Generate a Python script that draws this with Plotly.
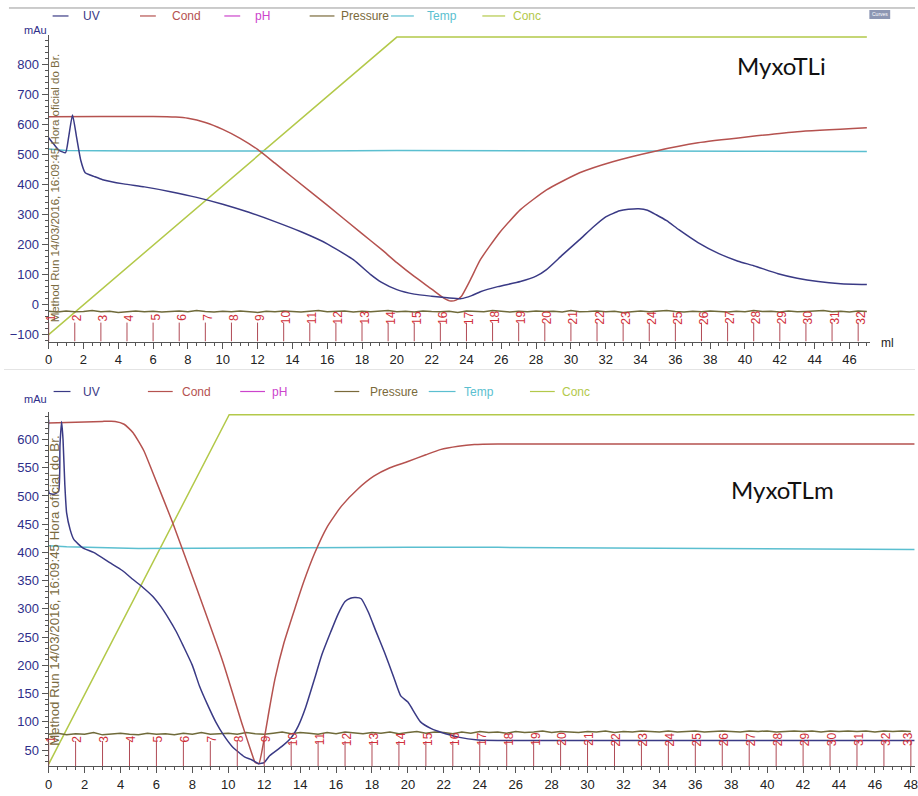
import plotly.graph_objects as go

W, H = 918, 796

# ---------------- data: top run (MyxoTLi) ----------------
uv1_ml = [0, 0.3, 0.6, 0.97, 1.15, 1.37, 1.6, 1.85, 2.1, 2.6, 3.1, 4.3, 5.5, 7, 8.5, 10, 11.5, 13, 14.5, 16,
          17.5, 18.5, 19.1, 20, 21, 22, 22.9, 23.7, 24.3, 24.8, 25.8, 27.1, 28, 28.6, 29.5, 30.5, 31.3, 32,
          32.8, 33.3, 33.9, 34.4, 34.9, 35.5, 36.2, 37.3, 38.5, 39.6, 40.5, 41.9, 43, 44.2, 45.5, 47]
uv1 = [557, 535, 515, 507, 560, 633, 560, 480, 440, 428, 417, 403, 393, 377, 358, 335, 308, 277, 243, 203,
       150, 100, 75, 50, 35, 28, 23, 20, 30, 43, 60, 77, 95, 117, 165, 217, 260, 293,
       313, 318, 320, 315, 300, 280, 250, 207, 170, 145, 130, 103, 88, 77, 70, 67]

cond1_ml = [0, 3, 6, 7.3, 8, 9, 10, 11, 12, 13, 14, 16, 18, 19.1, 20, 21, 22, 22.7, 23.1, 23.4, 23.7, 24.2,
            24.8, 25.9, 27.1, 28.6, 30.5, 32.4, 34.9, 37.3, 40.2, 43, 47]
cond1 = [627, 628, 628, 626, 622, 608, 585, 555, 518, 472, 425, 332, 237, 185, 140, 94, 52, 22, 12, 15, 27, 80,
         150, 240, 317, 383, 440, 477, 513, 540, 560, 577, 590]

temp1_ml = [0, 1, 5, 10, 15, 20, 25, 30, 35, 40, 47]
temp1 = [519, 514, 513, 512, 513, 514, 514, 514, 513, 512, 511]

conc1_ml = [0, 20, 47]
conc1 = [-100, 893, 893]

pres1 = [-22, -25, -21, -24, -23, -20, -24, -22, -26, -23, -21, -24, -22, -25, -23, -21, -24, -20, -23, -25,
         -22, -24, -21, -23, -26, -22, -24, -21, -23, -25, -22, -20, -24, -23, -21, -25, -22, -24, -23, -20,
         -24, -22, -25, -21, -23, -24, -22, -26, -21, -23, -24, -20, -23, -25, -22, -24, -21, -23, -22, -25,
         -20, -24, -23, -21, -24, -22, -26, -23, -21, -24, -22, -20, -23, -25, -22, -24, -21, -23, -25, -22,
         -24, -20, -23, -22, -25, -21, -24, -23, -22, -20, -24, -22, -25, -21, -23]
pres1_ml = [i * 0.5 for i in range(len(pres1))]

# ---------------- data: bottom run (MyxoTLm) ----------------
uv2_ml = [0, 0.03, 0.3, 0.55, 0.63, 0.72, 0.8, 0.9, 1.0, 1.2, 1.4, 1.9, 2.5, 3.4, 4.1, 4.7, 5.25, 5.8, 6.25,
          6.7, 7.1, 7.5, 8.0, 8.4, 8.85, 9.3, 9.75, 10.2, 10.9, 11.3, 11.7, 12.0, 12.3, 13, 13.5, 13.9, 14.3,
          14.8, 15.2, 15.7, 16.1, 16.5, 16.8, 17.1, 17.4, 17.8, 18.2, 18.7, 19.2, 19.6, 20, 20.7, 21.3, 21.8,
          22.8, 23.9, 30, 40, 48.2]
uv2 = [635, 505, 503, 508, 590, 632, 600, 520, 470, 440, 423, 408, 400, 382, 368, 352, 338, 322, 304,
       282, 260, 234, 200, 163, 130, 100, 76, 57, 38, 33, 26, 28, 40, 57, 72, 93, 125,
       176, 218, 259, 290, 313, 319, 320, 318, 294, 262, 223, 180, 146, 135, 100, 88, 82,
       73, 68, 67, 67, 67]

cond2_ml = [0, 1, 2, 3, 3.7, 4.2, 4.7, 5.3, 5.8, 6.9, 8.2, 9.7, 10.8, 11.3, 11.5, 11.7, 12.0, 12.3, 12.6, 13.1,
            13.7, 14.2, 14.8, 15.5, 16.3, 17.2, 18.1, 19, 20, 21, 21.8, 22.8, 23.7, 25, 48.2]
cond2 = [629, 630, 631, 632, 632, 627, 612, 580, 541, 453, 340, 206, 93, 45, 28, 26, 70, 125, 176, 240,
         300, 348, 398, 445, 482, 512, 535, 550, 561, 573, 582, 588, 591, 592, 592]

temp2_ml = [0, 1, 5, 10, 15, 20, 25, 30, 35, 40, 48.2]
temp2 = [412, 410, 407, 408, 409, 409, 409, 408, 407, 406, 405]

conc2_ml = [0, 10.05, 48.2]
conc2 = [25, 644, 644]

pres2 = [78, 80, 77, 79, 78, 81, 77, 79, 80, 78, 77, 80, 78, 79, 77, 80, 78, 81, 78, 79,
         80, 78, 81, 79, 78, 80, 82, 79, 81, 80, 78, 81, 79, 82, 80, 79, 81, 80, 82, 79,
         81, 83, 80, 82, 81, 79, 82, 80, 83, 81, 82, 80, 83, 81, 82, 84, 81, 83, 82, 81,
         83, 82, 84, 81, 83, 82, 84, 83, 82, 84, 82, 83, 84, 82, 83, 84, 83, 82, 84, 83,
         84, 82, 83, 84, 83, 84, 82, 84, 83, 84, 83, 84, 82, 84, 83, 84, 83]
pres2_ml = [i * 0.5 for i in range(len(pres2))]

fractions1 = [str(i) for i in range(1, 33)]
fractions2 = [str(i) for i in range(1, 34)]
frac_step = 1.5

yticks1 = [-100, 0, 100, 200, 300, 400, 500, 600, 700, 800]
yticks2 = [50, 100, 150, 200, 250, 300, 350, 400, 450, 500, 550, 600]

legend_names = ["UV", "Cond", "pH", "Pressure", "Temp", "Conc"]
legend_colors = ["#3a3a85", "#b5524f", "#cc44cc", "#7a6a3a", "#5bbfd0", "#b3c94a"]
run_note = "Method Run 14/03/2016, 16:09:45 Hora oficial do Br."

C_UV, C_COND, C_PH, C_PRES, C_TEMP, C_CONC = legend_colors
C_FRAC = "#d0303a"
C_AX = "#555555"
C_YT = "#2e2e8a"

def px(x):
    return x / W

def py(y):
    return 1 - y / H

fig = go.Figure()

def add_run(xa, ya, uv_x, uv_y, cd_x, cd_y, tp_x, tp_y, cc_x, cc_y, pr_x, pr_y):
    kw = dict(xaxis=xa, yaxis=ya, mode="lines", showlegend=False, hoverinfo="skip")
    fig.add_trace(go.Scatter(x=cc_x, y=cc_y, line=dict(color=C_CONC, width=1.5), **kw))
    fig.add_trace(go.Scatter(x=tp_x, y=tp_y, line=dict(color=C_TEMP, width=1.5), **kw))
    fig.add_trace(go.Scatter(x=pr_x, y=pr_y, line=dict(color="#6f6a3a", width=1.5), **kw))
    fig.add_trace(go.Scatter(x=cd_x, y=cd_y, line=dict(color=C_COND, width=1.5, shape="spline", smoothing=0.5), **kw))
    fig.add_trace(go.Scatter(x=uv_x, y=uv_y, line=dict(color=C_UV, width=1.5, shape="spline", smoothing=0.5), **kw))

add_run("x", "y", uv1_ml, uv1, cond1_ml, cond1, temp1_ml, temp1, conc1_ml, conc1, pres1_ml, pres1)
add_run("x2", "y2", uv2_ml, uv2, cond2_ml, cond2, temp2_ml, temp2, conc2_ml, conc2, pres2_ml, pres2)

base_font = "Liberation Sans, Arial, sans-serif"
xcommon = dict(showline=True, linecolor=C_AX, linewidth=1, ticks="outside", ticklen=6, tickcolor=C_AX,
               dtick=2, tick0=0, showgrid=False, zeroline=False, ticklabeloverflow="allow",
               tickfont=dict(family=base_font, size=13, color="#222222"),
               minor=dict(ticks="outside", ticklen=3, dtick=0.5, tickcolor=C_AX))
ycommon = dict(showline=True, linecolor=C_AX, linewidth=1, ticks="outside", ticklen=6, tickcolor=C_AX,
               showgrid=False, zeroline=False, tickmode="array",
               tickfont=dict(family=base_font, size=13, color=C_YT))

fig.update_layout(
    width=W, height=H, margin=dict(l=0, r=0, t=0, b=0),
    paper_bgcolor="white", plot_bgcolor="white", showlegend=False,
    xaxis=dict(domain=[45 / W, 873 / W], range=[0, 47.2], anchor="y", **xcommon),
    yaxis=dict(domain=[py(342), py(35)], range=[-123.33, 900], anchor="x", tickvals=yticks1,
               minor=dict(ticks="outside", ticklen=3, tickvals=list(range(-120, 900, 20)), tickcolor=C_AX),
               **ycommon),
    xaxis2=dict(domain=[45 / W, 1.0], range=[0, 48.23], anchor="y2", **xcommon),
    yaxis2=dict(domain=[py(767), py(413)], range=[21.8, 647.8], anchor="x2", tickvals=yticks2,
                minor=dict(ticks="outside", ticklen=3, tickvals=list(range(30, 650, 10)), tickcolor=C_AX),
                **ycommon),
)

shapes = []
ann = []

def A(**k):
    k.setdefault("showarrow", False)
    k.setdefault("xanchor", "center")
    k.setdefault("yanchor", "middle")
    ann.append(k)

# fraction markers
def add_fracs(labels, xref, yref, y_bot, y_top, y_lab):
    for i, lab in enumerate(labels):
        xv = i * frac_step
        shapes.append(dict(type="line", xref=xref, yref=yref, x0=xv, x1=xv, y0=y_bot, y1=y_top,
                           line=dict(color="#b04a55", width=1)))
        A(x=xv, y=y_lab, xref=xref, yref=yref, text=lab, textangle=-90,
          xshift=2 if i < 32 else -3, font=dict(family=base_font, size=12, color=C_FRAC))

add_fracs(fractions1, "x", "y", -123.33, -60, -43)
add_fracs(fractions2, "x2", "y2", 21.8, 66, 69.5)

# legends drawn as line+text
leg1 = [(49, 65, 78), (137, 153, 167), (222, 238, 251), (308, 333, 338), (390, 413, 424), (482, 505, 511)]
leg2 = [(50, 67, 78), (145, 170, 177), (238, 263, 268), (333, 358, 367), (428, 455, 462), (530, 555, 560)]
for legs, ly in ((leg1, 16), (leg2, 392)):
    for (x0, x1, tx), name, col in zip(legs, legend_names, legend_colors):
        shapes.append(dict(type="line", xref="paper", yref="paper", x0=px(x0), x1=px(x1), y0=py(ly), y1=py(ly),
                           line=dict(color=col, width=1.2)))
        A(x=px(tx), y=py(ly), xref="paper", yref="paper", text=name, xanchor="left",
          font=dict(family=base_font, size=12, color=col))

# mAu labels
for ly in (30, 400):
    A(x=px(32), y=py(ly), xref="paper", yref="paper", text="mAu",
      font=dict(family=base_font, size=11, color=C_YT))

# ml unit label
A(x=px(890), y=py(343), xref="paper", yref="paper", text="ml",
  font=dict(family=base_font, size=12, color="#222222"))

# run note along y axis
A(x=px(51), y=py(188), xref="paper", yref="paper", text=run_note, textangle=-90,
  font=dict(family=base_font, size=11.5, color="#7a6a40"))
A(x=px(51), y=py(592), xref="paper", yref="paper", text=run_note, textangle=-90,
  font=dict(family=base_font, size=13.3, color="#7a6a40"))

# sample titles
A(x=px(783), y=py(66), xref="paper", yref="paper", text="MyxoTLi",
  font=dict(family="Lato, Open Sans, sans-serif", size=24, color="#111111"))
A(x=px(784), y=py(490), xref="paper", yref="paper", text="MyxoTLm",
  font=dict(family="Lato, Open Sans, sans-serif", size=24, color="#111111"))

# Curves button
shapes.append(dict(type="rect", xref="paper", yref="paper", x0=px(872), x1=px(893), y0=py(19), y1=py(10),
                   fillcolor="#8d97b3", line=dict(width=0)))
A(x=px(882.5), y=py(14.5), xref="paper", yref="paper", text="Curves",
  font=dict(family=base_font, size=5, color="white"))

# window borders
shapes.append(dict(type="line", xref="paper", yref="paper", x0=px(5), x1=1, y0=py(8), y1=py(8),
                   line=dict(color="#999999", width=1)))
shapes.append(dict(type="line", xref="paper", yref="paper", x0=px(0), x1=1, y0=py(370), y1=py(370),
                   line=dict(color="#e4e4e4", width=1)))

fig.update_layout(shapes=shapes, annotations=ann)
fig.write_html("out.html")
